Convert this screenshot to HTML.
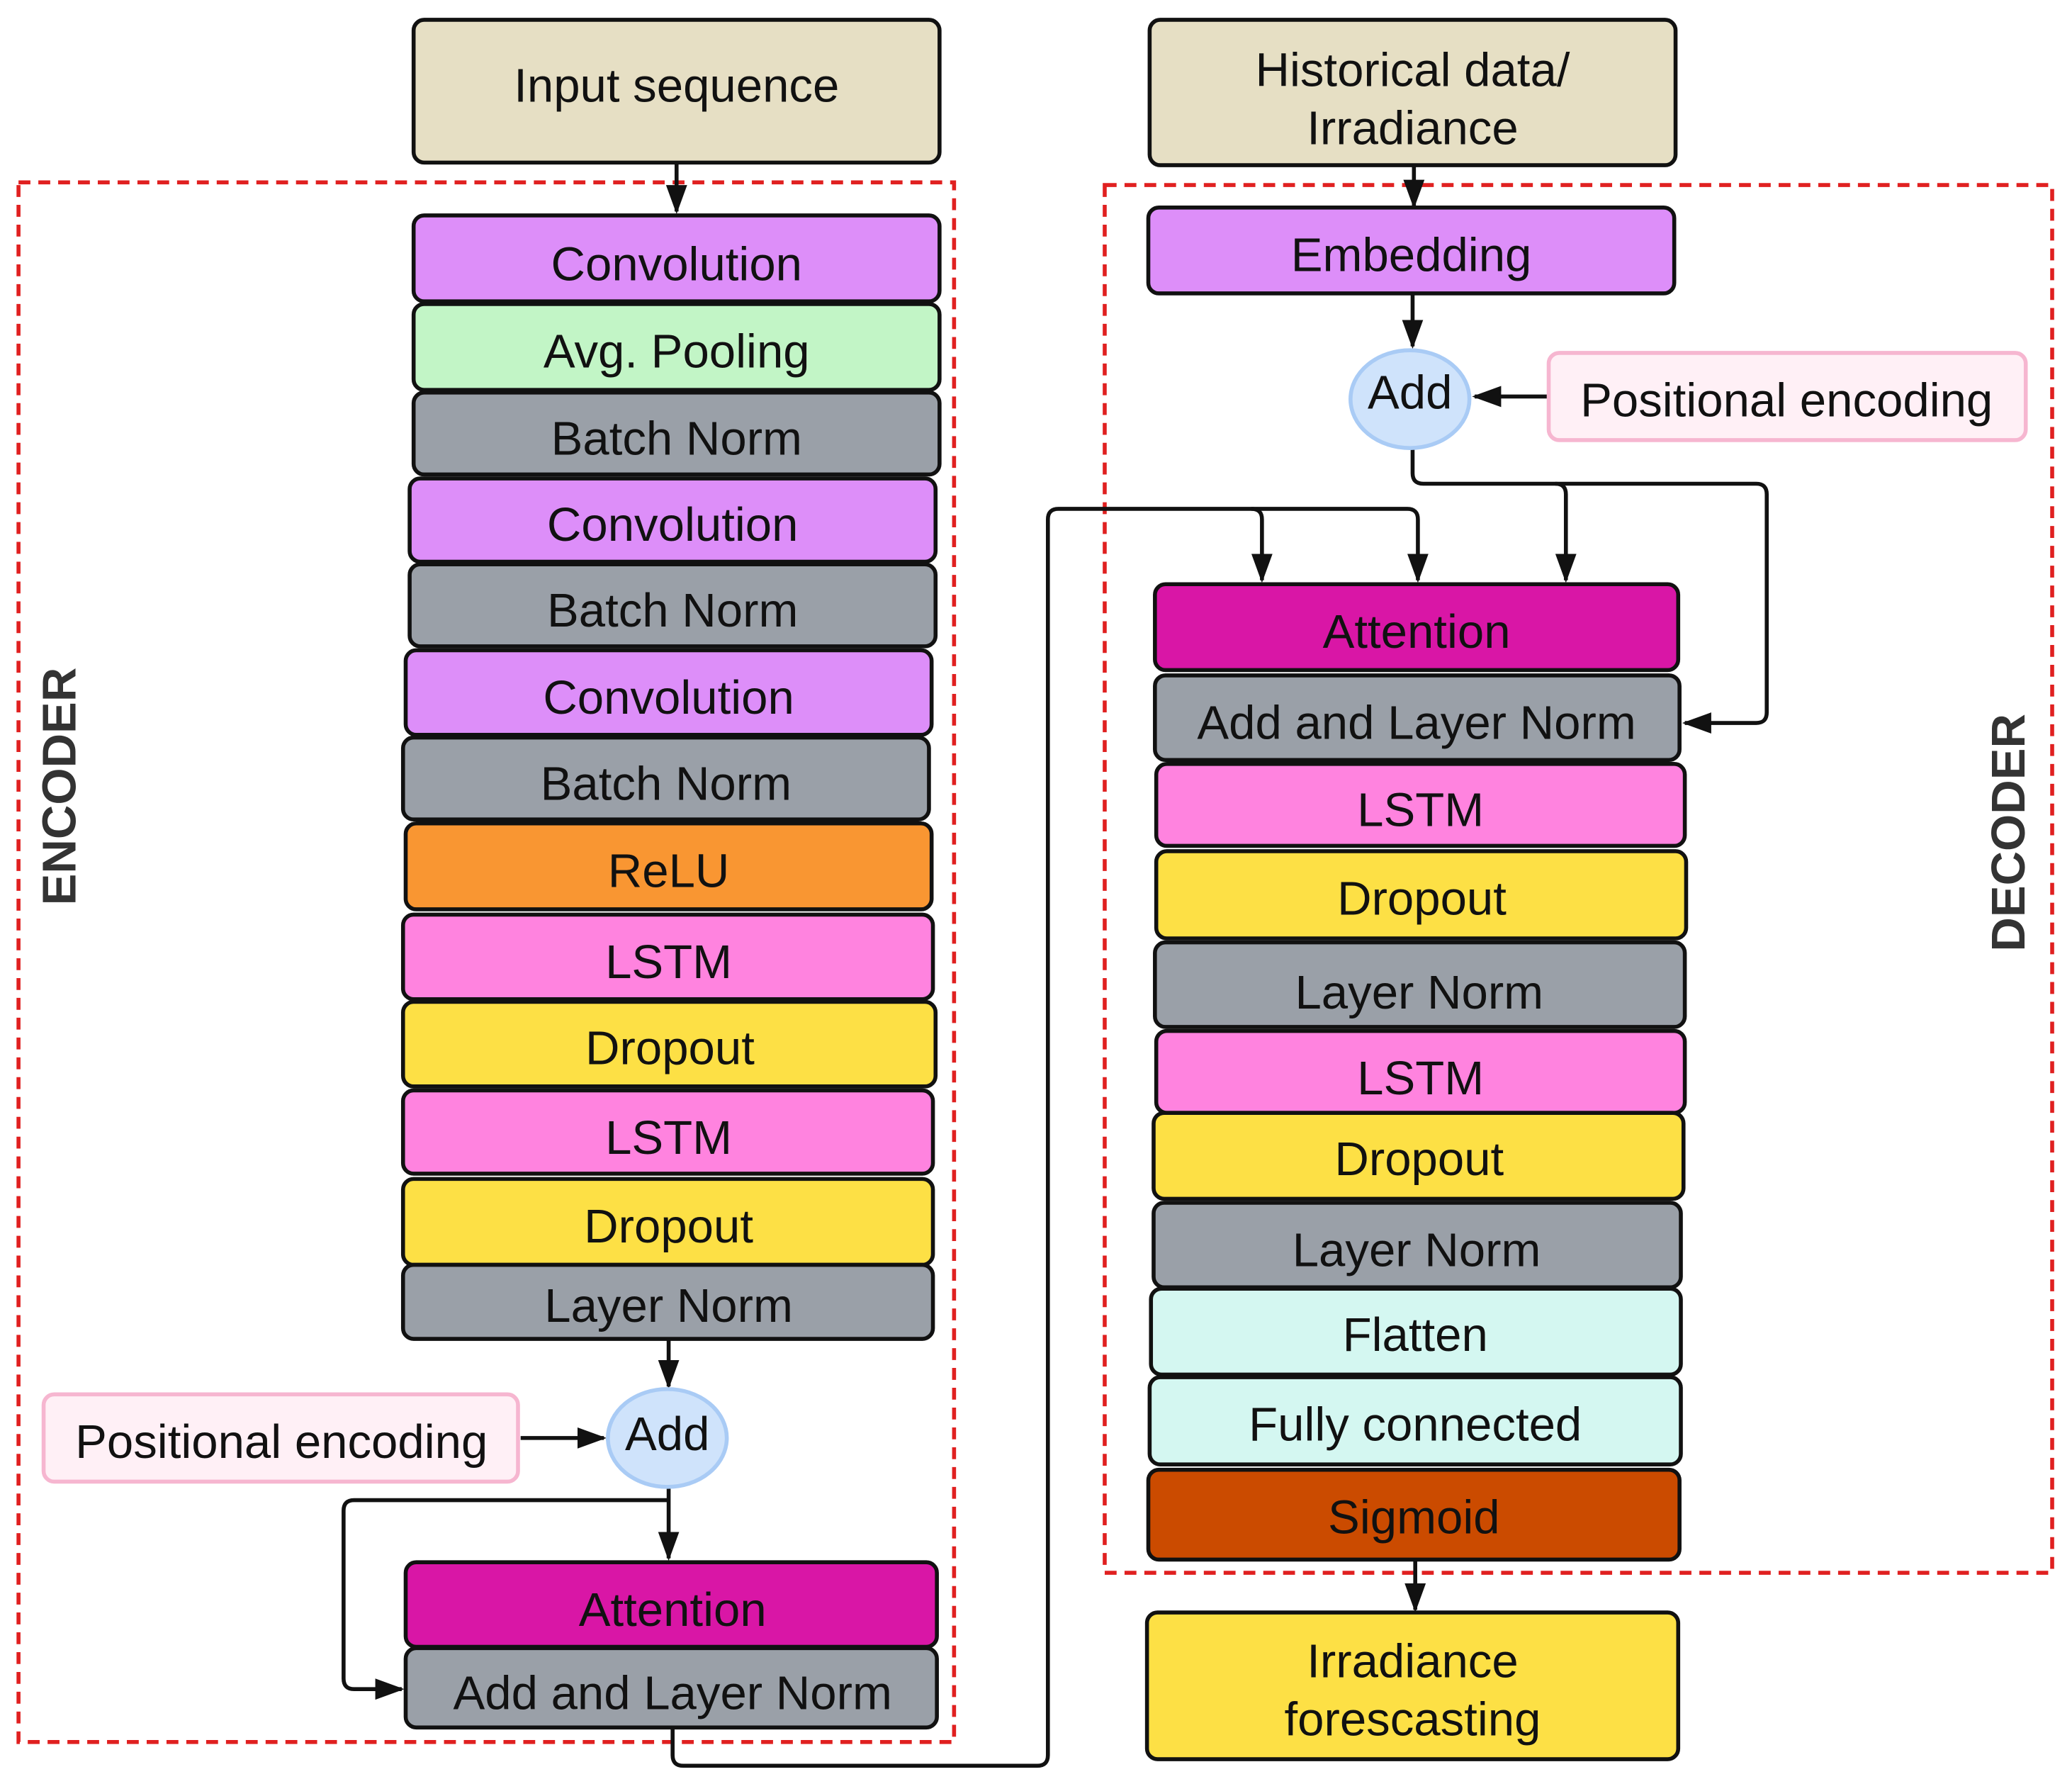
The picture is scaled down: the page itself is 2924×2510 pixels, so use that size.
<!DOCTYPE html>
<html><head><meta charset="utf-8"><style>
html,body{margin:0;padding:0;background:#fff}
svg{display:block}
text{font-family:"Liberation Sans",Arial,sans-serif;font-size:36px;fill:#111;text-anchor:middle;dominant-baseline:central}
.b{stroke:#111;stroke-width:3}
.l{fill:none;stroke:#111;stroke-width:3}
</style></head><body>
<svg width="2924" height="2510" viewBox="0 0 1568 1346" xmlns="http://www.w3.org/2000/svg">
<defs>
<marker id="A" markerWidth="22" markerHeight="22" refX="20" refY="11" orient="auto" markerUnits="userSpaceOnUse"><path d="M0,3 L22,11 L0,19 z" fill="#111"/></marker></defs>
<rect x="14" y="138" width="708" height="1180" fill="none" stroke="#e02020" stroke-width="3" stroke-dasharray="9,6"/>
<rect x="836" y="140" width="717" height="1050" fill="none" stroke="#e02020" stroke-width="3" stroke-dasharray="9,6"/>
<path class="l" d="M512,123 V160" marker-end="url(#A)"/>
<path class="l" d="M506,1013 V1049" marker-end="url(#A)"/>
<path class="l" d="M394,1088 H457" marker-end="url(#A)"/>
<path class="l" d="M506,1125 V1179" marker-end="url(#A)"/>
<path class="l" d="M506,1135 H268 Q260,1135 260,1143 V1270 Q260,1278 268,1278 H304" marker-end="url(#A)"/>
<path class="l" d="M509,1307 V1328 Q509,1336 517,1336 H785 Q793,1336 793,1328 V393 Q793,385 801,385 H1065 Q1073,385 1073,393 V439" marker-end="url(#A)"/>
<path class="l" d="M947,385 Q955,385 955,393 V439" marker-end="url(#A)"/>
<path class="l" d="M1070,125 V156" marker-end="url(#A)"/>
<path class="l" d="M1069,222 V262" marker-end="url(#A)"/>
<path class="l" d="M1172,300 H1116" marker-end="url(#A)"/>
<path class="l" d="M1069,339 V358 Q1069,366 1077,366 H1329 Q1337,366 1337,374 V539 Q1337,547 1329,547 H1275" marker-end="url(#A)"/>
<path class="l" d="M1177,366 Q1185,366 1185,374 V439" marker-end="url(#A)"/>
<path class="l" d="M1071,1180 V1218" marker-end="url(#A)"/>
<g class="b">
<rect x="313" y="15" width="398" height="108" rx="8" fill="#e6dfc4"/>
<rect x="313" y="163" width="398" height="65" rx="8" fill="#dd8ef9"/>
<rect x="313" y="230" width="398" height="65" rx="8" fill="#c2f5c6"/>
<rect x="313" y="297" width="398" height="62" rx="8" fill="#9aa0a8"/>
<rect x="310" y="362" width="398" height="63" rx="8" fill="#dd8ef9"/>
<rect x="310" y="427" width="398" height="62" rx="8" fill="#9aa0a8"/>
<rect x="307" y="492" width="398" height="64" rx="8" fill="#dd8ef9"/>
<rect x="305" y="558" width="398" height="62" rx="8" fill="#9aa0a8"/>
<rect x="307" y="623" width="398" height="65" rx="8" fill="#f99632"/>
<rect x="305" y="692" width="401" height="64" rx="8" fill="#ff83df"/>
<rect x="305" y="758" width="403" height="64" rx="8" fill="#fde045"/>
<rect x="305" y="825" width="401" height="63" rx="8" fill="#ff83df"/>
<rect x="305" y="892" width="401" height="65" rx="8" fill="#fde045"/>
<rect x="305" y="957" width="401" height="56" rx="8" fill="#9aa0a8"/>
<rect x="307" y="1182" width="402" height="64" rx="8" fill="#d916a6"/>
<rect x="307" y="1247" width="402" height="60" rx="8" fill="#9aa0a8"/>
</g>
<ellipse cx="505" cy="1088" rx="45" ry="37" fill="#cfe3fb" stroke="#a9cbf5" stroke-width="3"/>
<rect x="33" y="1055" width="359" height="66" rx="8" fill="#fff0f6" stroke="#f6b6d0" stroke-width="3"/>
<text x="512" y="65">Input sequence</text>
<text x="512" y="200">Convolution</text>
<text x="512" y="266">Avg. Pooling</text>
<text x="512" y="332">Batch Norm</text>
<text x="509" y="397">Convolution</text>
<text x="509" y="462">Batch Norm</text>
<text x="506" y="528">Convolution</text>
<text x="504" y="593">Batch Norm</text>
<text x="506" y="659">ReLU</text>
<text x="506" y="728">LSTM</text>
<text x="507" y="793">Dropout</text>
<text x="506" y="861">LSTM</text>
<text x="506" y="928">Dropout</text>
<text x="506" y="988">Layer Norm</text>
<text x="505" y="1085">Add</text>
<text x="213" y="1091">Positional encoding</text>
<text x="509" y="1218">Attention</text>
<text x="509" y="1281">Add and Layer Norm</text>
<text x="45" y="595" transform="rotate(-90 45 595)" style="font-weight:bold;fill:#333">ENCODER</text>
<g class="b">
<rect x="870" y="15" width="398" height="110" rx="8" fill="#e6dfc4"/>
<rect x="869" y="157" width="398" height="65" rx="8" fill="#dd8ef9"/>
<rect x="874" y="442" width="396" height="65" rx="8" fill="#d916a6"/>
<rect x="874" y="511" width="397" height="64" rx="8" fill="#9aa0a8"/>
<rect x="875" y="578" width="400" height="62" rx="8" fill="#ff83df"/>
<rect x="875" y="644" width="401" height="66" rx="8" fill="#fde045"/>
<rect x="874" y="713" width="401" height="64" rx="8" fill="#9aa0a8"/>
<rect x="875" y="780" width="400" height="62" rx="8" fill="#ff83df"/>
<rect x="873" y="842" width="401" height="65" rx="8" fill="#fde045"/>
<rect x="873" y="910" width="399" height="64" rx="8" fill="#9aa0a8"/>
<rect x="871" y="975" width="401" height="65" rx="8" fill="#d4f7f1"/>
<rect x="870" y="1042" width="402" height="66" rx="8" fill="#d4f7f1"/>
<rect x="869" y="1112" width="402" height="68" rx="8" fill="#cb4b00"/>
<rect x="868" y="1220" width="402" height="111" rx="8" fill="#fde045"/>
</g>
<ellipse cx="1067" cy="302" rx="45" ry="37" fill="#cfe3fb" stroke="#a9cbf5" stroke-width="3"/>
<rect x="1172" y="267" width="361" height="66" rx="8" fill="#fff0f6" stroke="#f6b6d0" stroke-width="3"/>
<text x="1069" y="53">Historical data/</text>
<text x="1069" y="97">Irradiance</text>
<text x="1068" y="193">Embedding</text>
<text x="1067" y="297">Add</text>
<text x="1352" y="303">Positional encoding</text>
<text x="1072" y="478">Attention</text>
<text x="1072" y="547">Add and Layer Norm</text>
<text x="1075" y="613">LSTM</text>
<text x="1076" y="680">Dropout</text>
<text x="1074" y="751">Layer Norm</text>
<text x="1075" y="816">LSTM</text>
<text x="1074" y="877">Dropout</text>
<text x="1072" y="946">Layer Norm</text>
<text x="1071" y="1010">Flatten</text>
<text x="1071" y="1078">Fully connected</text>
<text x="1070" y="1148">Sigmoid</text>
<text x="1069" y="1257">Irradiance</text>
<text x="1069" y="1301">forescasting</text>
<text x="1520" y="630" transform="rotate(-90 1520 630)" style="font-weight:bold;fill:#333">DECODER</text>
</svg>
</body></html>
